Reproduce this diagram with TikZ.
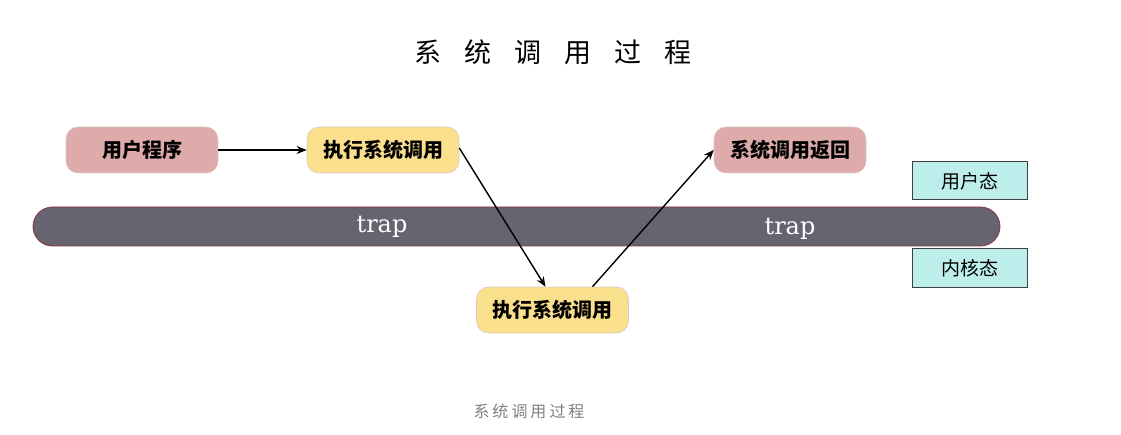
\documentclass[tikz,border=0pt]{standalone}
\usepackage{fontspec}
\newfontfamily\cjk{Noto Sans CJK SC}
\newfontfamily\trapfont{DejaVu Serif}
\usepackage{tikz}
\usetikzlibrary{calc, arrows.meta}

\definecolor{progpink}{RGB}{222,170,170}
\definecolor{execyellow}{RGB}{250,224,140}
\definecolor{modecyan}{RGB}{189,238,236}
\definecolor{trapgray}{RGB}{103,100,113}
\definecolor{trapedge}{RGB}{140,50,60}
\definecolor{boxedge}{RGB}{215,205,195}

\tikzset{
	stepbox/.style={rounded corners=12pt, draw=boxedge, line width=0.6pt, minimum width=152pt, minimum height=46pt, inner sep=0pt, font=\cjk\bfseries\fontsize{20}{24}\selectfont},
	modebox/.style={draw=black!75, line width=1pt, fill=modecyan, minimum width=115pt, minimum height=38pt, inner sep=0pt, font=\cjk\fontsize{19}{23}\selectfont},
	flow/.style={-{Stealth[length=10pt, width=8pt]}, line width=1.4pt},
}

\begin{document}
\begin{tikzpicture}[x=1pt, y=1pt]
					\useasboundingbox (0,0) rectangle (1121,434);

					\node (title) at (553,382) {\cjk\fontsize{27}{30}\selectfont 系\hspace{23pt}统\hspace{23pt}调\hspace{23pt}用\hspace{23pt}过\hspace{23pt}程};

					\node [draw=trapedge, line width=0.8pt, fill=trapgray, rounded corners=19.5pt, minimum width=967pt, minimum height=39pt] (bar) at (516.5,207.5) {};
					\node [text=white, font=\trapfont\fontsize{24}{28}\selectfont] (trapl) at (382,207) {trap};
					\node [text=white, font=\trapfont\fontsize{24}{28}\selectfont] (trapr) at (790,205) {trap};

					\node [stepbox, fill=progpink] (prog) at (142,284) {用户程序};
					\node [stepbox, fill=execyellow] (exec) at (383,284) {执行系统调用};
					\node [stepbox, fill=progpink] (ret) at (790,284) {系统调用返回};
					\node [stepbox, fill=execyellow] (kexec) at (552.5,124) {执行系统调用};

					\node [modebox] (user) at (969.5,253) {用户态};
					\node [modebox] (kernel) at (969.5,166) {内核态};

					\draw [flow] (prog) -- (exec);
					\draw [flow] ([yshift=2pt]exec.east) -- ([xshift=-7pt]kexec.north);
					\draw [flow] ([xshift=40pt]kexec.north) -- (ret.west);

					\node [text=black!50, font=\cjk\fontsize{16}{19}\selectfont] (caption) at (529,23) {系\hspace{3pt}统\hspace{3pt}调\hspace{3pt}用\hspace{3pt}过\hspace{3pt}程};
				\end{tikzpicture}
\end{document}
